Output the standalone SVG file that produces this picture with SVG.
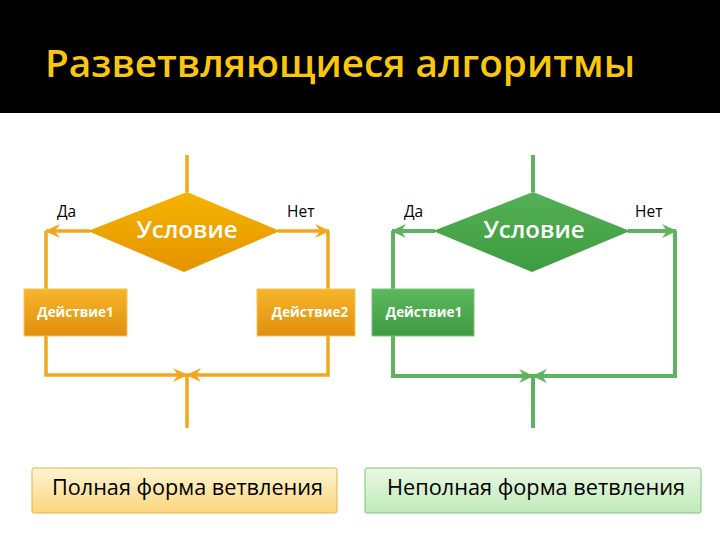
<svg xmlns="http://www.w3.org/2000/svg" width="720" height="540" viewBox="0 0 720 540">
<defs>
<linearGradient id="gO" x1="0" y1="0" x2="0" y2="1"><stop offset="0" stop-color="#f7b52a"/><stop offset="1" stop-color="#e08f0c"/></linearGradient>
<linearGradient id="gOd" x1="0" y1="0" x2="0" y2="1"><stop offset="0" stop-color="#f5b400"/><stop offset="1" stop-color="#e49300"/></linearGradient>
<linearGradient id="gG" x1="0" y1="0" x2="0" y2="1"><stop offset="0" stop-color="#5cb85c"/><stop offset="1" stop-color="#3f9a42"/></linearGradient>
<linearGradient id="gGd" x1="0" y1="0" x2="0" y2="1"><stop offset="0" stop-color="#54b054"/><stop offset="1" stop-color="#3d9b40"/></linearGradient>
<linearGradient id="cO" x1="0" y1="0" x2="0" y2="1"><stop offset="0" stop-color="#fef4d2"/><stop offset="1" stop-color="#fbd67c"/></linearGradient>
<linearGradient id="cG" x1="0" y1="0" x2="0" y2="1"><stop offset="0" stop-color="#eaf8e4"/><stop offset="1" stop-color="#bfeab8"/></linearGradient>
<marker id="aO" markerUnits="userSpaceOnUse" markerWidth="16" markerHeight="16" refX="14" refY="8" orient="auto" viewBox="0 0 16 16">
<path d="M0,1 L15,8 L0,15 L5,8 Z" fill="#f0a91c"/></marker>
<marker id="aG" markerUnits="userSpaceOnUse" markerWidth="16" markerHeight="16" refX="14" refY="8" orient="auto" viewBox="0 0 16 16">
<path d="M0,1 L15,8 L0,15 L5,8 Z" fill="#5fb35f"/></marker>
</defs>
<style>
.title{font-family:"Open Sans","DejaVu Sans",sans-serif;font-weight:600;font-size:38px;fill:#f9c80e}
.lo{fill:none;stroke:#f0a91c;stroke-width:3.5}
.lg{fill:none;stroke:#5fb35f;stroke-width:4}
.cond{font-family:"Open Sans","DejaVu Sans",sans-serif;font-weight:600;font-size:24px;fill:#ffffff;text-anchor:middle}
.act{font-family:"Open Sans","DejaVu Sans",sans-serif;font-weight:700;font-size:13.5px;fill:#ffffff;text-anchor:middle}
.lbl{font-family:"Open Sans","DejaVu Sans",sans-serif;font-size:15.5px;fill:#000000}
.cap{font-family:"Open Sans","DejaVu Sans",sans-serif;font-size:21px;fill:#000000}
</style>
<rect x="0" y="0" width="720" height="540" fill="#ffffff"/>
<rect x="0" y="0" width="720" height="113" fill="#000000"/>
<text class="title" x="45" y="77" textLength="590" lengthAdjust="spacingAndGlyphs">Разветвляющиеся алгоритмы</text>

<g id="connectors">
<line class="lo" x1="187" y1="155" x2="187" y2="192"/>
<line class="lo" x1="90" y1="231" x2="46" y2="231" marker-end="url(#aO)"/>
<line class="lo" x1="278" y1="231" x2="329" y2="231" marker-end="url(#aO)"/>
<line class="lo" x1="46" y1="231" x2="46" y2="289"/>
<line class="lo" x1="328" y1="231" x2="328" y2="289"/>
<path class="lo" d="M46,336 L46,375 L187,375" marker-end="url(#aO)"/>
<path class="lo" d="M328,336 L328,375 L187,375" marker-end="url(#aO)"/>
<line class="lo" x1="187" y1="375" x2="187" y2="428"/>

<line class="lg" x1="533" y1="155" x2="533" y2="192"/>
<line class="lg" x1="435" y1="231" x2="392" y2="231" marker-end="url(#aG)"/>
<line class="lg" x1="628" y1="231" x2="676" y2="231" marker-end="url(#aG)"/>
<line class="lg" x1="393" y1="231" x2="393" y2="289"/>
<path class="lg" d="M393,336 L393,376 L533,376" marker-end="url(#aG)"/>
<path class="lg" d="M675,231 L675,376 L533,376" marker-end="url(#aG)"/>
<line class="lg" x1="533" y1="376" x2="533" y2="428"/>
</g>

<g id="cond1">
<polygon points="187,192 280,231 184,272 88,231" fill="url(#gOd)"/>
<text class="cond" x="187" y="238">Условие</text>
</g>
<g id="yes1"><text class="lbl" x="57" y="217">Да</text></g>
<g id="no1"><text class="lbl" x="287" y="217">Нет</text></g>
<g id="act1">
<rect x="24" y="289" width="103" height="47" fill="url(#gO)" stroke="#f8c55a" stroke-width="1"/>
<text class="act" x="75.5" y="317">Действие1</text>
</g>
<g id="act2">
<rect x="257" y="289" width="98" height="47" fill="url(#gO)" stroke="#f8c55a" stroke-width="1"/>
<text class="act" x="310" y="317">Действие2</text>
</g>
<g id="cap1">
<rect x="32" y="468" width="305" height="45" rx="2" fill="url(#cO)" stroke="#e7b04c" stroke-width="1"/>
<text class="cap" x="52" y="495" textLength="271" lengthAdjust="spacingAndGlyphs">Полная форма ветвления</text>
</g>

<g id="cond2">
<polygon points="533,192 630,231 532,272 433,231" fill="url(#gGd)"/>
<text class="cond" x="534" y="238">Условие</text>
</g>
<g id="yes2"><text class="lbl" x="404" y="217">Да</text></g>
<g id="no2"><text class="lbl" x="635" y="217">Нет</text></g>
<g id="act3">
<rect x="372" y="289" width="102" height="47" fill="url(#gG)" stroke="#7cc47c" stroke-width="1"/>
<text class="act" x="424" y="317">Действие1</text>
</g>
<g id="cap2">
<rect x="365" y="468" width="336" height="45" rx="2" fill="url(#cG)" stroke="#7cc47c" stroke-width="1"/>
<text class="cap" x="387" y="495" textLength="298" lengthAdjust="spacingAndGlyphs">Неполная форма ветвления</text>
</g>
</svg>
